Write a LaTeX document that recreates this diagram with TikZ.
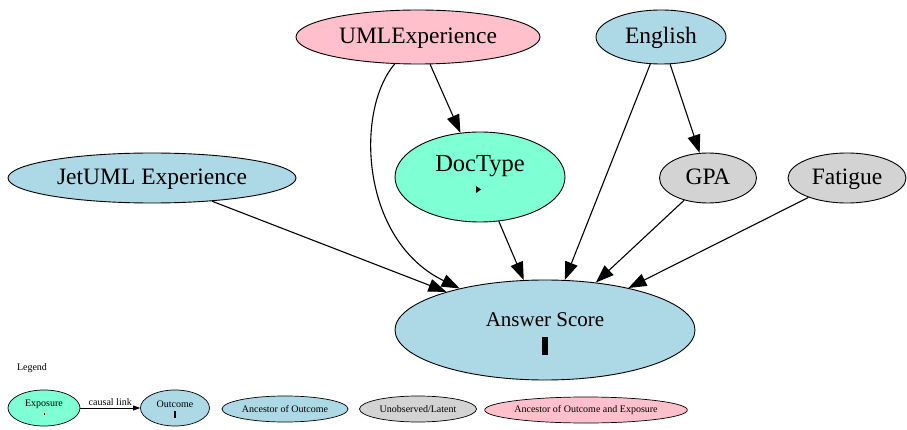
\documentclass[tikz,border=0pt]{standalone}
\usepackage{fontspec}
\setmainfont{Liberation Serif}
\newfontfamily\tms{Liberation Serif}
\usetikzlibrary{shapes.geometric,arrows.meta}
\definecolor{expo}{HTML}{7FFFD4}
\definecolor{outc}{HTML}{ADD8E6}
\definecolor{anc}{HTML}{ADD8E6}
\definecolor{lat}{HTML}{D3D3D3}
\definecolor{both}{HTML}{FFC0CB}
\tikzset{
  x=1pt,y=-1pt,
  big/.style={font=\tms\fontsize{23.5}{25}\selectfont,text height=16pt,text depth=3.5pt},
  small/.style={font=\tms\fontsize{10}{11}\selectfont},
  var/.style={ellipse,draw=black,line width=0.9pt,inner sep=0pt,big},
  lvar/.style={ellipse,draw=black,line width=0.7pt,inner sep=0pt,small},
  edge/.style={line width=1.1pt,-{Triangle[length=18pt,width=13pt]}},
  ledge/.style={line width=0.8pt,-{Triangle[length=7pt,width=5pt]}},
}
\begin{document}
\begin{tikzpicture}
\useasboundingbox (0,0) rectangle (907,430);
% main nodes
\node[var,fill=both,minimum width=244pt,minimum height=54pt] (uml) at (418,37) {UMLExperience};
\node[var,fill=anc,minimum width=130pt,minimum height=54pt] (eng) at (661,37) {English};
\node[var,fill=expo,minimum width=170pt,minimum height=90pt] (doc) at (480,177) {};
\node[big,font=\tms\fontsize{24.5}{26}\selectfont,inner sep=0pt] (doclbl) at (480,165.5) {DocType};
\fill (476,186) -- (481,189.5) -- (476,193) -- cycle;
\node[var,fill=lat,minimum width=97pt,minimum height=50pt] (gpa) at (708,178) {GPA};
\node[var,fill=lat,minimum width=118pt,minimum height=50pt] (fat) at (847,178) {Fatigue};
\node[var,fill=anc,minimum width=288pt,minimum height=50pt] (jet) at (152,178) {JetUML Experience};
\node[var,fill=outc,minimum width=300pt,minimum height=100pt] (ans) at (545,330) {};
\node[font=\tms\fontsize{21}{23}\selectfont,text height=14.3pt,text depth=3.1pt,inner sep=0pt] (anslbl) at (545,321) {Answer Score};
\fill (541.5,337) rectangle (547.5,355);
% edges
\draw[edge] (uml) -- (doc);
\draw[edge] (uml) .. controls (355,110) and (360,240) .. (ans);
\draw[edge] (eng) -- (gpa);
\draw[edge] (eng) -- (ans);
\draw[edge] (doc) -- (ans);
\draw[edge] (gpa) -- (ans);
\draw[edge] (fat) -- (ans);
\draw[edge] (jet) -- (ans);
% legend
\node[small] (leg) at (32,368) {Legend};
\node[lvar,fill=expo,minimum width=72pt,minimum height=36pt] (lexp) at (44,408) {};
\node[small] (lexpl) at (44,404) {Exposure};
\fill (43.5,413) rectangle (45,414.5);
\node[lvar,fill=outc,minimum width=69pt,minimum height=36pt] (lout) at (175,408) {};
\node[small] (loutl) at (175,404) {Outcome};
\fill (174,411) rectangle (176,418);
\draw[ledge] (lexp) -- node[above=-1pt,small] (cl) {causal link} (lout);
\node[lvar,fill=anc,minimum width=126pt,minimum height=26pt] (lanc) at (285,409) {Ancestor of Outcome};
\node[lvar,fill=lat,minimum width=117pt,minimum height=26pt] (llat) at (418,409) {Unobserved/Latent};
\node[lvar,fill=both,minimum width=199pt,minimum height=26pt] (lboth) at (586,410) {Ancestor of Outcome and Exposure};
\end{tikzpicture}
\end{document}
